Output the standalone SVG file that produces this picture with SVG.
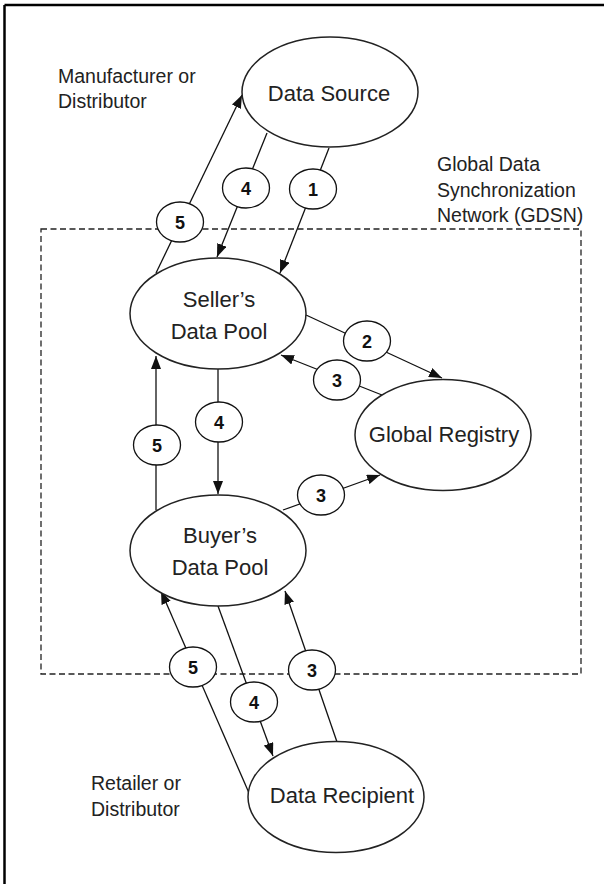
<svg xmlns="http://www.w3.org/2000/svg" width="604" height="884" viewBox="0 0 604 884">
<defs>
<style>
.node{fill:#fff;stroke:#222;stroke-width:1.5}
.lbl{font-family:"Liberation Sans",Arial,sans-serif;font-size:22px;fill:#222;text-anchor:middle}
.side{font-family:"Liberation Sans",Arial,sans-serif;font-size:19.5px;fill:#222}
.conn{stroke:#111;stroke-width:1.3;fill:none}
.badge{fill:#fff;stroke:#111;stroke-width:1.3}
.num{font-family:"Liberation Sans",Arial,sans-serif;font-size:18px;font-weight:bold;fill:#111;text-anchor:middle}
</style>
<marker id="arr" markerUnits="userSpaceOnUse" markerWidth="13" markerHeight="10" refX="13" refY="5" orient="auto">
<path d="M0,0 L13,5 L0,10 z" fill="#111"/>
</marker>
</defs>
<rect width="604" height="884" fill="#fff"/>
<g id="frame">
<line x1="4.5" y1="5" x2="604" y2="5" stroke="#000" stroke-width="2.5"/>
<line x1="4.5" y1="5" x2="4.5" y2="884" stroke="#000" stroke-width="2.5"/>
</g>
<g id="gdsn">
<rect x="41" y="229" width="540" height="445" fill="none" stroke="#222" stroke-width="1.3" stroke-dasharray="6,3.5"/>
<text class="side" x="437" y="171">Global Data</text>
<text class="side" x="437" y="197">Synchronization</text>
<text class="side" x="437" y="222">Network (GDSN)</text>
</g>
<g id="side-labels">
<text class="side" x="58" y="83">Manufacturer or</text>
<text class="side" x="58" y="108">Distributor</text>
<text class="side" x="91" y="790">Retailer or</text>
<text class="side" x="91" y="816">Distributor</text>
</g>
<g id="connectors">
<line class="conn" x1="156" y1="273" x2="242" y2="95" marker-end="url(#arr)"/>
<line class="conn" x1="267" y1="133" x2="217" y2="257" marker-end="url(#arr)"/>
<line class="conn" x1="329" y1="148" x2="280" y2="273" marker-end="url(#arr)"/>
<line class="conn" x1="306" y1="315" x2="442" y2="378" marker-end="url(#arr)"/>
<line class="conn" x1="382" y1="395" x2="281" y2="355" marker-end="url(#arr)"/>
<line class="conn" x1="218" y1="369" x2="218" y2="494" marker-end="url(#arr)"/>
<line class="conn" x1="156" y1="510" x2="156" y2="356" marker-end="url(#arr)"/>
<line class="conn" x1="283" y1="510" x2="380" y2="475" marker-end="url(#arr)"/>
<line class="conn" x1="249" y1="793" x2="161" y2="591" marker-end="url(#arr)"/>
<line class="conn" x1="218" y1="606" x2="273" y2="756" marker-end="url(#arr)"/>
<line class="conn" x1="337" y1="742" x2="285" y2="591" marker-end="url(#arr)"/>
</g>
<g id="badges">
<g id="b5a"><ellipse class="badge" cx="180" cy="222" rx="23.5" ry="20"/><text class="num" x="180" y="228.5">5</text></g>
<g id="b4a"><ellipse class="badge" cx="246" cy="188" rx="23.5" ry="20"/><text class="num" x="246" y="194.5">4</text></g>
<g id="b1"><ellipse class="badge" cx="313" cy="189" rx="23.5" ry="20"/><text class="num" x="313" y="195.5">1</text></g>
<g id="b2"><ellipse class="badge" cx="367" cy="341" rx="23.5" ry="20"/><text class="num" x="367" y="347.5">2</text></g>
<g id="b3a"><ellipse class="badge" cx="337" cy="380" rx="23.5" ry="20"/><text class="num" x="337" y="386.5">3</text></g>
<g id="b4b"><ellipse class="badge" cx="219" cy="422" rx="23.5" ry="20"/><text class="num" x="219" y="428.5">4</text></g>
<g id="b5b"><ellipse class="badge" cx="157" cy="445" rx="23.5" ry="20"/><text class="num" x="157" y="451.5">5</text></g>
<g id="b3b"><ellipse class="badge" cx="321" cy="495" rx="23.5" ry="20"/><text class="num" x="321" y="501.5">3</text></g>
<g id="b5c"><ellipse class="badge" cx="193" cy="667" rx="23.5" ry="20"/><text class="num" x="193" y="673.5">5</text></g>
<g id="b3c"><ellipse class="badge" cx="312" cy="670" rx="23.5" ry="20"/><text class="num" x="312" y="676.5">3</text></g>
<g id="b4c"><ellipse class="badge" cx="254" cy="702" rx="23.5" ry="20"/><text class="num" x="254" y="708.5">4</text></g>
</g>
<g id="data-source"><ellipse class="node" cx="330" cy="92" rx="88" ry="55"/><text class="lbl" x="329" y="101">Data Source</text></g>
<g id="sellers-pool"><ellipse class="node" cx="218" cy="313.5" rx="88" ry="55.5"/><text class="lbl" x="219" y="307">Seller’s</text><text class="lbl" x="219" y="339">Data Pool</text></g>
<g id="global-registry"><ellipse class="node" cx="443" cy="435" rx="88" ry="55.5"/><text class="lbl" x="444" y="442">Global Registry</text></g>
<g id="buyers-pool"><ellipse class="node" cx="218" cy="550.5" rx="88" ry="55.5"/><text class="lbl" x="220" y="543">Buyer’s</text><text class="lbl" x="220" y="575">Data Pool</text></g>
<g id="data-recipient"><ellipse class="node" cx="336" cy="797" rx="88" ry="55.5"/><text class="lbl" x="342" y="803">Data Recipient</text></g>
</svg>
